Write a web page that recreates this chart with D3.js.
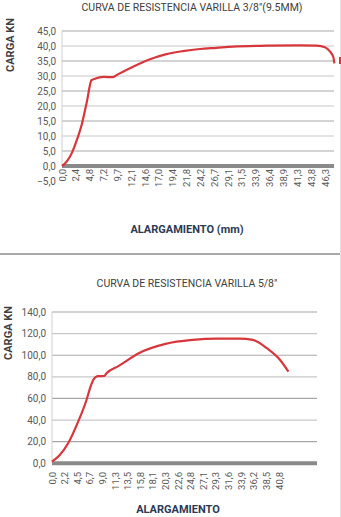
<!DOCTYPE html>
<html>
<head>
<meta charset="utf-8">
<script src="https://cdn.jsdelivr.net/npm/d3@7"></script>
<style>
  body { margin: 0; background: #fff; }
  text { font-family: Roboto, "Liberation Sans", sans-serif; }
</style>
</head>
<body>
<svg id="chart" width="341" height="517"></svg>
<script>
// varilla 3/8" (9.5mm)
const topTicks = ["0,0","2,4","4,8","7,2","9,7","12,1","14,6","17,0","19,4","21,8",
  "24,2","26,7","29,1","31,5","33,9","36,4","38,9","41,3","43,8","46,3"];
const topMm = [0, 0.8, 1.7, 2.6, 3.5, 4.35, 5.2, 5.8, 7.3, 9.0, 9.6, 12.5, 15.5,
  18.4, 21.3, 24.3, 27.2, 30.1, 36.0, 41.9, 44.8, 46.3, 47.2, 47.75, 47.95];
const topKn = [0, 1.4, 4.2, 8.6, 14.0, 21.2, 28.6, 29.1, 29.7, 29.6, 30.3, 33.1, 35.6,
  37.3, 38.3, 39.0, 39.4, 39.8, 40.1, 40.2, 40.1, 39.6, 38.1, 36.4, 34.2];
const topYTicks = [-5, 0, 5, 10, 15, 20, 25, 30, 35, 40, 45];

// varilla 5/8"
const botTicks = ["0,0","2,2","4,5","6,7","9,0","11,3","13,5","15,8","18,1","20,3",
  "22,6","24,8","27,1","29,3","31,6","33,9","36,2","38,5","40,8"];
const botMm = [0, 1.4, 2.9, 4.7, 6.2, 6.9, 7.5, 8.2, 9.4, 9.8, 12.0, 15.6, 20.4,
  25.3, 29.5, 33.7, 36.1, 38.6, 41.0, 42.5];
const botKn = [1.5, 7.7, 18.5, 38.5, 58.6, 70.5, 78.0, 80.6, 80.8, 83.3, 90.1, 101.9, 110.5,
  114.2, 115.4, 115.4, 114.2, 106.5, 95.6, 84.8];
const botYTicks = [0, 20, 40, 60, 80, 100, 120, 140];

const svg = d3.select("#chart");
const fmt = v => d3.format(".1f")(v).replace(".", ",");
const red = "#d7363b";

function drawChart(o) {
  let g = svg.append("g");

  let x = d3.scaleLinear().domain([0, o.lastTickMm]).range([o.left, o.lastTickX]);
  let xp = d3.scalePoint().domain(o.ticks).range([o.left, o.lastTickX]);
  let y = d3.scaleLinear().domain(o.yDomain).range([o.bottom, o.top]);

  // gridlines
  g.selectAll(".grid")
    .data(o.yTicks.filter(d => d > 0))
    .enter().append("line")
    .attr("x1", o.left).attr("x2", o.right)
    .attr("y1", d => y(d)).attr("y2", d => y(d))
    .attr("stroke", (d, i) => i % 2 ? "#c8c8c8" : "#a8a8a8")
    .attr("stroke-width", 1.2);

  // left axis line
  g.append("line")
    .attr("x1", o.left).attr("x2", o.left)
    .attr("y1", y(0)).attr("y2", y(o.yDomain[1]))
    .attr("stroke", "#d0d0d0");

  // zero line
  g.append("line")
    .attr("x1", o.left).attr("x2", o.right)
    .attr("y1", y(0)).attr("y2", y(0))
    .attr("stroke", "#8a8a8a")
    .attr("stroke-width", 4);

  // y labels
  g.selectAll(".ylab")
    .data(o.yTicks)
    .enter().append("text")
    .attr("x", o.yLabelX)
    .attr("y", d => y(d) + 3.5)
    .attr("text-anchor", "end")
    .style("font-size", "10px")
    .style("fill", "#595959")
    .text(fmt);

  // x labels
  g.selectAll(".xlab")
    .data(o.ticks)
    .enter().append("text")
    .attr("transform", d => "translate(" + (xp(d) + 3.5) + "," + o.xLabelY + ") rotate(-90)")
    .attr("text-anchor", "end")
    .style("font-size", "9.5px")
    .style("fill", "#595959")
    .text(d => d);

  // curve
  let line = d3.line()
    .x((d, i) => x(o.mm[i]))
    .y(d => y(d))
    .curve(d3.curveMonotoneX);

  g.append("path")
    .datum(o.kn)
    .attr("d", line)
    .attr("fill", "none")
    .attr("stroke", red)
    .attr("stroke-width", 2.2);

  // titles
  g.append("text")
    .attr("x", o.titleX).attr("y", o.titleY)
    .attr("text-anchor", "middle")
    .style("font-size", "10.5px")
    .style("fill", "#404040")
    .text(o.title);

  g.append("text")
    .attr("transform", "translate(" + o.yTitleX + "," + o.yTitleY + ") rotate(-90)")
    .attr("text-anchor", "middle")
    .style("font-size", "11px")
    .style("font-weight", "bold")
    .style("fill", "#404040")
    .text("CARGA KN");

  g.append("text")
    .attr("x", o.xTitleX).attr("y", o.xTitleY)
    .attr("text-anchor", "middle")
    .style("font-size", "11px")
    .style("font-weight", "bold")
    .style("fill", "#2b3a55")
    .text(o.xTitle);
}

drawChart({
  ticks: topTicks, mm: topMm, kn: topKn, yTicks: topYTicks,
  yDomain: [-5, 45], lastTickMm: 46.3,
  left: 62, right: 334, lastTickX: 325, top: 31, bottom: 181,
  yLabelX: 56, xLabelY: 169,
  title: "CURVA DE RESISTENCIA VARILLA 3/8\"(9.5MM)", titleX: 192, titleY: 11,
  yTitleX: 14, yTitleY: 45,
  xTitle: "ALARGAMIENTO (mm)", xTitleX: 187, xTitleY: 233
});

drawChart({
  ticks: botTicks, mm: botMm, kn: botKn, yTicks: botYTicks,
  yDomain: [0, 140], lastTickMm: 40.8,
  left: 52, right: 317, lastTickX: 279, top: 312, bottom: 463.3,
  yLabelX: 46, xLabelY: 472,
  title: "CURVA DE RESISTENCIA VARILLA 5/8\"", titleX: 187, titleY: 287,
  yTitleX: 12, yTitleY: 333,
  xTitle: "ALARGAMIENTO", xTitleX: 178, xTitleY: 513
});

// separator and right border
svg.append("line")
  .attr("x1", 0).attr("x2", 340).attr("y1", 254).attr("y2", 254)
  .attr("stroke", "#555").attr("stroke-width", 1);
svg.append("line")
  .attr("x1", 340.5).attr("x2", 340.5).attr("y1", 0).attr("y2", 517)
  .attr("stroke", "#e2e2e2");
// legend marker cut at the edge
svg.append("line")
  .attr("x1", 340).attr("x2", 340).attr("y1", 57).attr("y2", 64)
  .attr("stroke", red).attr("stroke-width", 2);
</script>
</body>
</html>
